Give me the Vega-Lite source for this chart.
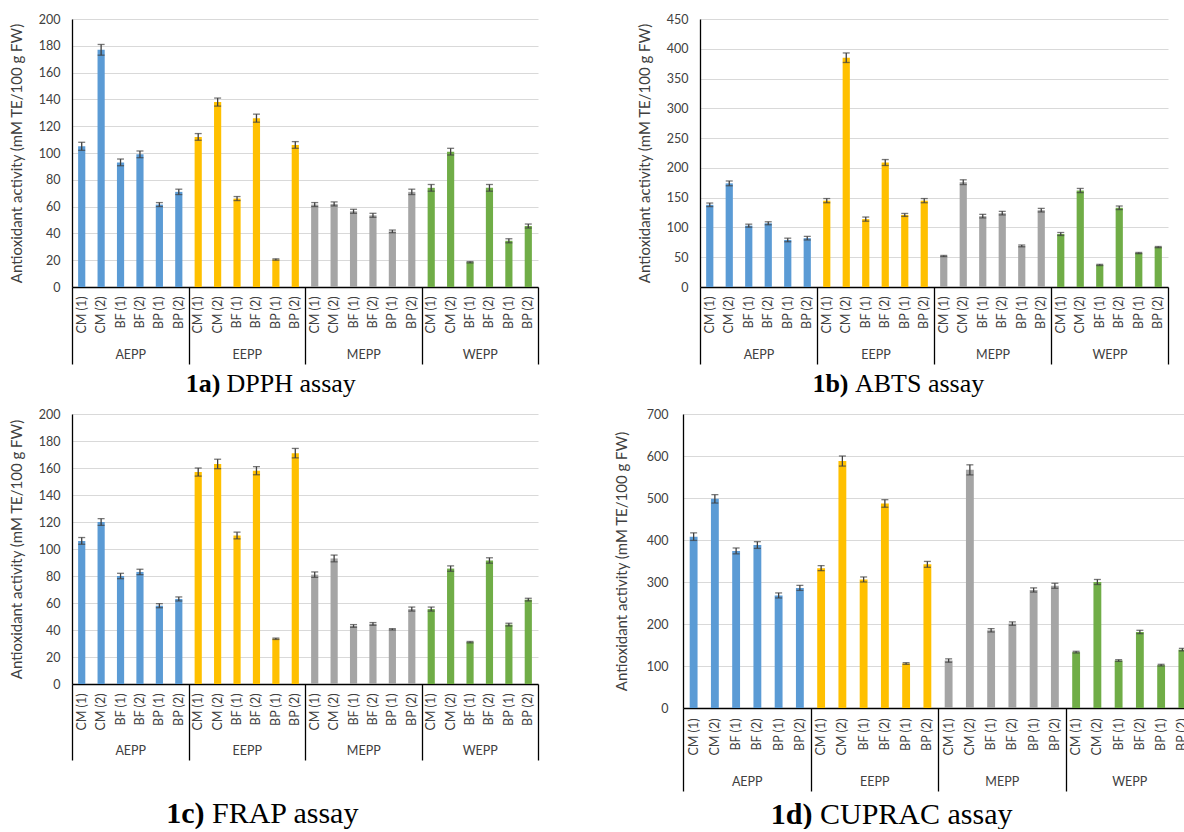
{
"$schema": "https://vega.github.io/schema/vega-lite/v6.json",
"padding": {"left": 9, "top": 13, "right": 0, "bottom": 0},
"datasets": {"d": [
{"a":"DPPH","g":"AEPP","k":"AEPP CM (1)","v":105,"e":3},
{"a":"DPPH","g":"AEPP","k":"AEPP CM (2)","v":177,"e":4},
{"a":"DPPH","g":"AEPP","k":"AEPP BF (1)","v":93,"e":2.5},
{"a":"DPPH","g":"AEPP","k":"AEPP BF (2)","v":99,"e":2.5},
{"a":"DPPH","g":"AEPP","k":"AEPP BP (1)","v":61.5,"e":1.5},
{"a":"DPPH","g":"AEPP","k":"AEPP BP (2)","v":71,"e":2},
{"a":"DPPH","g":"EEPP","k":"EEPP CM (1)","v":112,"e":2.5},
{"a":"DPPH","g":"EEPP","k":"EEPP CM (2)","v":138,"e":3},
{"a":"DPPH","g":"EEPP","k":"EEPP BF (1)","v":66,"e":1.5},
{"a":"DPPH","g":"EEPP","k":"EEPP BF (2)","v":126,"e":3},
{"a":"DPPH","g":"EEPP","k":"EEPP BP (1)","v":20.5,"e":0.5},
{"a":"DPPH","g":"EEPP","k":"EEPP BP (2)","v":106,"e":2.5},
{"a":"DPPH","g":"MEPP","k":"MEPP CM (1)","v":61.5,"e":1.5},
{"a":"DPPH","g":"MEPP","k":"MEPP CM (2)","v":62,"e":1.5},
{"a":"DPPH","g":"MEPP","k":"MEPP BF (1)","v":56.5,"e":1.5},
{"a":"DPPH","g":"MEPP","k":"MEPP BF (2)","v":53.5,"e":1.5},
{"a":"DPPH","g":"MEPP","k":"MEPP BP (1)","v":41.5,"e":1},
{"a":"DPPH","g":"MEPP","k":"MEPP BP (2)","v":71,"e":2},
{"a":"DPPH","g":"WEPP","k":"WEPP CM (1)","v":74,"e":2.5},
{"a":"DPPH","g":"WEPP","k":"WEPP CM (2)","v":101,"e":2.5},
{"a":"DPPH","g":"WEPP","k":"WEPP BF (1)","v":18.5,"e":0.5},
{"a":"DPPH","g":"WEPP","k":"WEPP BF (2)","v":74,"e":2.5},
{"a":"DPPH","g":"WEPP","k":"WEPP BP (1)","v":34.5,"e":1.5},
{"a":"DPPH","g":"WEPP","k":"WEPP BP (2)","v":45.5,"e":1.5},
{"a":"ABTS","g":"AEPP","k":"AEPP CM (1)","v":138,"e":3},
{"a":"ABTS","g":"AEPP","k":"AEPP CM (2)","v":174,"e":4},
{"a":"ABTS","g":"AEPP","k":"AEPP BF (1)","v":103,"e":2.5},
{"a":"ABTS","g":"AEPP","k":"AEPP BF (2)","v":107,"e":2.5},
{"a":"ABTS","g":"AEPP","k":"AEPP BP (1)","v":79,"e":3},
{"a":"ABTS","g":"AEPP","k":"AEPP BP (2)","v":82,"e":3},
{"a":"ABTS","g":"EEPP","k":"EEPP CM (1)","v":145,"e":3.5},
{"a":"ABTS","g":"EEPP","k":"EEPP CM (2)","v":385,"e":8},
{"a":"ABTS","g":"EEPP","k":"EEPP BF (1)","v":114,"e":3.5},
{"a":"ABTS","g":"EEPP","k":"EEPP BF (2)","v":209,"e":5},
{"a":"ABTS","g":"EEPP","k":"EEPP BP (1)","v":121,"e":2.5},
{"a":"ABTS","g":"EEPP","k":"EEPP BP (2)","v":145,"e":3.5},
{"a":"ABTS","g":"MEPP","k":"MEPP CM (1)","v":52,"e":1},
{"a":"ABTS","g":"MEPP","k":"MEPP CM (2)","v":176,"e":4},
{"a":"ABTS","g":"MEPP","k":"MEPP BF (1)","v":119,"e":3},
{"a":"ABTS","g":"MEPP","k":"MEPP BF (2)","v":124,"e":3},
{"a":"ABTS","g":"MEPP","k":"MEPP BP (1)","v":69,"e":1.5},
{"a":"ABTS","g":"MEPP","k":"MEPP BP (2)","v":129,"e":3},
{"a":"ABTS","g":"WEPP","k":"WEPP CM (1)","v":89,"e":2.5},
{"a":"ABTS","g":"WEPP","k":"WEPP CM (2)","v":162,"e":3.5},
{"a":"ABTS","g":"WEPP","k":"WEPP BF (1)","v":37,"e":1},
{"a":"ABTS","g":"WEPP","k":"WEPP BF (2)","v":133,"e":3},
{"a":"ABTS","g":"WEPP","k":"WEPP BP (1)","v":57,"e":1},
{"a":"ABTS","g":"WEPP","k":"WEPP BP (2)","v":67,"e":1},
{"a":"FRAP","g":"AEPP","k":"AEPP CM (1)","v":106,"e":2.5},
{"a":"FRAP","g":"AEPP","k":"AEPP CM (2)","v":120,"e":2.5},
{"a":"FRAP","g":"AEPP","k":"AEPP BF (1)","v":80,"e":2},
{"a":"FRAP","g":"AEPP","k":"AEPP BF (2)","v":83,"e":2},
{"a":"FRAP","g":"AEPP","k":"AEPP BP (1)","v":58,"e":1.5},
{"a":"FRAP","g":"AEPP","k":"AEPP BP (2)","v":63,"e":1.5},
{"a":"FRAP","g":"EEPP","k":"EEPP CM (1)","v":157,"e":3},
{"a":"FRAP","g":"EEPP","k":"EEPP CM (2)","v":163,"e":3.5},
{"a":"FRAP","g":"EEPP","k":"EEPP BF (1)","v":110,"e":2.5},
{"a":"FRAP","g":"EEPP","k":"EEPP BF (2)","v":158,"e":3},
{"a":"FRAP","g":"EEPP","k":"EEPP BP (1)","v":33.5,"e":0.5},
{"a":"FRAP","g":"EEPP","k":"EEPP BP (2)","v":171,"e":3.5},
{"a":"FRAP","g":"MEPP","k":"MEPP CM (1)","v":81,"e":2},
{"a":"FRAP","g":"MEPP","k":"MEPP CM (2)","v":93,"e":2.5},
{"a":"FRAP","g":"MEPP","k":"MEPP BF (1)","v":43,"e":1},
{"a":"FRAP","g":"MEPP","k":"MEPP BF (2)","v":44.5,"e":1},
{"a":"FRAP","g":"MEPP","k":"MEPP BP (1)","v":40.5,"e":0.5},
{"a":"FRAP","g":"MEPP","k":"MEPP BP (2)","v":55.5,"e":1.5},
{"a":"FRAP","g":"WEPP","k":"WEPP CM (1)","v":55.5,"e":1.5},
{"a":"FRAP","g":"WEPP","k":"WEPP CM (2)","v":85.5,"e":2},
{"a":"FRAP","g":"WEPP","k":"WEPP BF (1)","v":31,"e":0.5},
{"a":"FRAP","g":"WEPP","k":"WEPP BF (2)","v":91.5,"e":2},
{"a":"FRAP","g":"WEPP","k":"WEPP BP (1)","v":44,"e":1},
{"a":"FRAP","g":"WEPP","k":"WEPP BP (2)","v":62.5,"e":1},
{"a":"CUPRAC","g":"AEPP","k":"AEPP CM (1)","v":408,"e":9},
{"a":"CUPRAC","g":"AEPP","k":"AEPP CM (2)","v":498,"e":10},
{"a":"CUPRAC","g":"AEPP","k":"AEPP BF (1)","v":374,"e":7},
{"a":"CUPRAC","g":"AEPP","k":"AEPP BF (2)","v":388,"e":8},
{"a":"CUPRAC","g":"AEPP","k":"AEPP BP (1)","v":268,"e":6},
{"a":"CUPRAC","g":"AEPP","k":"AEPP BP (2)","v":286,"e":6},
{"a":"CUPRAC","g":"EEPP","k":"EEPP CM (1)","v":333,"e":6},
{"a":"CUPRAC","g":"EEPP","k":"EEPP CM (2)","v":588,"e":12},
{"a":"CUPRAC","g":"EEPP","k":"EEPP BF (1)","v":306,"e":6},
{"a":"CUPRAC","g":"EEPP","k":"EEPP BF (2)","v":487,"e":9},
{"a":"CUPRAC","g":"EEPP","k":"EEPP BP (1)","v":106,"e":2},
{"a":"CUPRAC","g":"EEPP","k":"EEPP BP (2)","v":342,"e":7},
{"a":"CUPRAC","g":"MEPP","k":"MEPP CM (1)","v":113,"e":4},
{"a":"CUPRAC","g":"MEPP","k":"MEPP CM (2)","v":567,"e":12},
{"a":"CUPRAC","g":"MEPP","k":"MEPP BF (1)","v":185,"e":4},
{"a":"CUPRAC","g":"MEPP","k":"MEPP BF (2)","v":201,"e":4},
{"a":"CUPRAC","g":"MEPP","k":"MEPP BP (1)","v":281,"e":5},
{"a":"CUPRAC","g":"MEPP","k":"MEPP BP (2)","v":291,"e":6},
{"a":"CUPRAC","g":"WEPP","k":"WEPP CM (1)","v":133,"e":2},
{"a":"CUPRAC","g":"WEPP","k":"WEPP CM (2)","v":300,"e":6},
{"a":"CUPRAC","g":"WEPP","k":"WEPP BF (1)","v":113,"e":2},
{"a":"CUPRAC","g":"WEPP","k":"WEPP BF (2)","v":181,"e":4},
{"a":"CUPRAC","g":"WEPP","k":"WEPP BP (1)","v":102,"e":2},
{"a":"CUPRAC","g":"WEPP","k":"WEPP BP (2)","v":139,"e":3}
]},
"config": {
  "view": {"stroke": null},
  "axis": {"labelFont": "Lato", "labelFontSize": 12.5, "labelColor": "#404040", "domainColor": "#000000", "domainWidth": 1.3, "tickColor": "#000000", "gridColor": "#D9D9D9", "gridWidth": 1, "titleColor": "#000000"},
  "axisY": {"ticks": false, "labelPadding": 12, "labelOverlap": false, "labelFlush": false, "titleFont": "Lato", "titleFontSize": 15, "titleFontWeight": "normal", "titleColor": "#404040", "titlePadding": 14, "grid": true},
  "axisX": {"grid": false}
},
"bounds": "full",
"spacing": 12,
"vconcat": [
{"bounds": "flush", "spacing": 162, "hconcat": [
 {"width": 466, "height": 268, "resolve": {"scale": {"x": "independent"}},
  "layer": [
   {"data": {"name": "d"}, "transform": [{"filter": "datum.a === 'DPPH'"}],
    "layer": [
     {"mark": {"type": "bar", "width": {"band": 0.37}},
      "encoding": {
       "x": {"field": "k", "type": "nominal", "sort": null, "scale": {"paddingInner": 0, "paddingOuter": 0},
             "axis": {"orient": "bottom", "labelExpr": "substring(datum.label, 5)", "labelAngle": -90, "labelPadding": 9, "ticks": false, "labelOverlap": false,
                      "title": "1a)", "titleFont": "Liberation Serif", "titleFontSize": 26, "titleFontWeight": "bold", "titleAlign": "right", "titleBaseline": "alphabetic", "titleX": 148, "titleY": 104}},
       "y": {"field": "v", "type": "quantitative", "scale": {"domain": [0, 200], "nice": false},
             "axis": {"values": [0,20,40,60,80,100,120,140,160,180,200], "labelOverlap": false, "title": "Antioxidant activity (mM TE/100 g FW)"}},
       "color": {"field": "g", "type": "nominal", "scale": {"domain": ["AEPP","EEPP","MEPP","WEPP"], "range": ["#5B9BD5","#FFC000","#A5A5A5","#70AD47"]}, "legend": null}
      }},
     {"mark": {"type": "errorbar", "ticks": {"size": 7}, "color": "#404040", "thickness": 1.3},
      "encoding": {
       "x": {"field": "k", "type": "nominal", "sort": null},
       "y": {"field": "v", "type": "quantitative", "title": "Antioxidant activity (mM TE/100 g FW)", "axis": {"values": [0,20,40,60,80,100,120,140,160,180,200], "labelOverlap": false}},
       "yError": {"field": "e"}
      }}
    ]},
   {"data": {"values": [{"p": 0}, {"p": 4}]},
    "mark": {"type": "point", "opacity": 0},
    "encoding": {"x": {"field": "p", "type": "quantitative", "scale": {"domain": [0, 4], "nice": false, "zero": false},
      "axis": {"orient": "bottom", "values": [0,0.5,1,1.5,2,2.5,3,3.5,4], "domain": false, "grid": false, "ticks": true, "tickSize": 77, "tickWidth": 1.3,
               "tickOpacity": {"condition": {"test": "datum.value % 1 === 0", "value": 1}, "value": 0},
               "labelExpr": "datum.value === 0.5 ? 'AEPP' : datum.value === 1.5 ? 'EEPP' : datum.value === 2.5 ? 'MEPP' : datum.value === 3.5 ? 'WEPP' : ''",
               "labelPadding": -10, "labelBaseline": "middle", "labelAngle": 0, "labelOverlap": false, "labelFlush": false, "labelBound": false,
               "title": "DPPH assay", "titleFont": "Liberation Serif", "titleFontSize": 26, "titleFontWeight": "normal", "titleAlign": "left", "titleBaseline": "alphabetic", "titleX": 154, "titleY": 104}}}}
  ]},
 {"width": 468, "height": 268, "resolve": {"scale": {"x": "independent"}},
  "layer": [
   {"data": {"name": "d"}, "transform": [{"filter": "datum.a === 'ABTS'"}],
    "layer": [
     {"mark": {"type": "bar", "width": {"band": 0.37}},
      "encoding": {
       "x": {"field": "k", "type": "nominal", "sort": null, "scale": {"paddingInner": 0, "paddingOuter": 0},
             "axis": {"orient": "bottom", "labelExpr": "substring(datum.label, 5)", "labelAngle": -90, "labelPadding": 9, "ticks": false, "labelOverlap": false,
                      "title": "1b)", "titleFont": "Liberation Serif", "titleFontSize": 26, "titleFontWeight": "bold", "titleAlign": "right", "titleBaseline": "alphabetic", "titleX": 148, "titleY": 104}},
       "y": {"field": "v", "type": "quantitative", "scale": {"domain": [0, 450], "nice": false},
             "axis": {"values": [0,50,100,150,200,250,300,350,400,450], "labelOverlap": false, "title": "Antioxidant activity (mM TE/100 g FW)"}},
       "color": {"field": "g", "type": "nominal", "scale": {"domain": ["AEPP","EEPP","MEPP","WEPP"], "range": ["#5B9BD5","#FFC000","#A5A5A5","#70AD47"]}, "legend": null}
      }},
     {"mark": {"type": "errorbar", "ticks": {"size": 7}, "color": "#404040", "thickness": 1.3},
      "encoding": {
       "x": {"field": "k", "type": "nominal", "sort": null},
       "y": {"field": "v", "type": "quantitative", "title": "Antioxidant activity (mM TE/100 g FW)", "axis": {"values": [0,50,100,150,200,250,300,350,400,450], "labelOverlap": false}},
       "yError": {"field": "e"}
      }}
    ]},
   {"data": {"values": [{"p": 0}, {"p": 4}]},
    "mark": {"type": "point", "opacity": 0},
    "encoding": {"x": {"field": "p", "type": "quantitative", "scale": {"domain": [0, 4], "nice": false, "zero": false},
      "axis": {"orient": "bottom", "values": [0,0.5,1,1.5,2,2.5,3,3.5,4], "domain": false, "grid": false, "ticks": true, "tickSize": 77, "tickWidth": 1.3,
               "tickOpacity": {"condition": {"test": "datum.value % 1 === 0", "value": 1}, "value": 0},
               "labelExpr": "datum.value === 0.5 ? 'AEPP' : datum.value === 1.5 ? 'EEPP' : datum.value === 2.5 ? 'MEPP' : datum.value === 3.5 ? 'WEPP' : ''",
               "labelPadding": -10, "labelBaseline": "middle", "labelAngle": 0, "labelOverlap": false, "labelFlush": false, "labelBound": false,
               "title": "ABTS assay", "titleFont": "Liberation Serif", "titleFontSize": 26, "titleFontWeight": "normal", "titleAlign": "left", "titleBaseline": "alphabetic", "titleX": 154.5, "titleY": 104}}}}
  ]}
]},
{"bounds": "flush", "spacing": 145, "hconcat": [
 {"width": 466, "height": 270, "resolve": {"scale": {"x": "independent"}},
  "layer": [
   {"data": {"name": "d"}, "transform": [{"filter": "datum.a === 'FRAP'"}],
    "layer": [
     {"mark": {"type": "bar", "width": {"band": 0.37}},
      "encoding": {
       "x": {"field": "k", "type": "nominal", "sort": null, "scale": {"paddingInner": 0, "paddingOuter": 0},
             "axis": {"orient": "bottom", "labelExpr": "substring(datum.label, 5)", "labelAngle": -90, "labelPadding": 9, "ticks": false, "labelOverlap": false,
                      "title": "1c)", "titleFont": "Liberation Serif", "titleFontSize": 30, "titleFontWeight": "bold", "titleAlign": "right", "titleBaseline": "alphabetic", "titleX": 132, "titleY": 138}},
       "y": {"field": "v", "type": "quantitative", "scale": {"domain": [0, 200], "nice": false},
             "axis": {"values": [0,20,40,60,80,100,120,140,160,180,200], "labelOverlap": false, "title": "Antioxidant activity (mM TE/100 g FW)"}},
       "color": {"field": "g", "type": "nominal", "scale": {"domain": ["AEPP","EEPP","MEPP","WEPP"], "range": ["#5B9BD5","#FFC000","#A5A5A5","#70AD47"]}, "legend": null}
      }},
     {"mark": {"type": "errorbar", "ticks": {"size": 7}, "color": "#404040", "thickness": 1.3},
      "encoding": {
       "x": {"field": "k", "type": "nominal", "sort": null},
       "y": {"field": "v", "type": "quantitative", "title": "Antioxidant activity (mM TE/100 g FW)", "axis": {"values": [0,20,40,60,80,100,120,140,160,180,200], "labelOverlap": false}},
       "yError": {"field": "e"}
      }}
    ]},
   {"data": {"values": [{"p": 0}, {"p": 4}]},
    "mark": {"type": "point", "opacity": 0},
    "encoding": {"x": {"field": "p", "type": "quantitative", "scale": {"domain": [0, 4], "nice": false, "zero": false},
      "axis": {"orient": "bottom", "values": [0,0.5,1,1.5,2,2.5,3,3.5,4], "domain": false, "grid": false, "ticks": true, "tickSize": 76, "tickWidth": 1.3,
               "tickOpacity": {"condition": {"test": "datum.value % 1 === 0", "value": 1}, "value": 0},
               "labelExpr": "datum.value === 0.5 ? 'AEPP' : datum.value === 1.5 ? 'EEPP' : datum.value === 2.5 ? 'MEPP' : datum.value === 3.5 ? 'WEPP' : ''",
               "labelPadding": -10, "labelBaseline": "middle", "labelAngle": 0, "labelOverlap": false, "labelFlush": false, "labelBound": false,
               "title": "FRAP assay", "titleFont": "Liberation Serif", "titleFontSize": 30, "titleFontWeight": "normal", "titleAlign": "left", "titleBaseline": "alphabetic", "titleX": 139.5, "titleY": 138}}}}
  ]},
 {"width": 510, "height": 294, "resolve": {"scale": {"x": "independent"}},
  "layer": [
   {"data": {"name": "d"}, "transform": [{"filter": "datum.a === 'CUPRAC'"}],
    "layer": [
     {"mark": {"type": "bar", "width": {"band": 0.37}},
      "encoding": {
       "x": {"field": "k", "type": "nominal", "sort": null, "scale": {"paddingInner": 0, "paddingOuter": 0},
             "axis": {"orient": "bottom", "labelExpr": "substring(datum.label, 5)", "labelAngle": -90, "labelPadding": 10, "ticks": false, "labelOverlap": false,
                      "title": "1d)", "titleFont": "Liberation Serif", "titleFontSize": 30, "titleFontWeight": "bold", "titleAlign": "right", "titleBaseline": "alphabetic", "titleX": 129, "titleY": 115}},
       "y": {"field": "v", "type": "quantitative", "scale": {"domain": [0, 700], "nice": false},
             "axis": {"values": [0,100,200,300,400,500,600,700], "labelOverlap": false, "title": "Antioxidant activity (mM TE/100 g FW)", "labelPadding": 15, "titlePadding": 17}},
       "color": {"field": "g", "type": "nominal", "scale": {"domain": ["AEPP","EEPP","MEPP","WEPP"], "range": ["#5B9BD5","#FFC000","#A5A5A5","#70AD47"]}, "legend": null}
      }},
     {"mark": {"type": "errorbar", "ticks": {"size": 7}, "color": "#404040", "thickness": 1.3},
      "encoding": {
       "x": {"field": "k", "type": "nominal", "sort": null},
       "y": {"field": "v", "type": "quantitative", "title": "Antioxidant activity (mM TE/100 g FW)", "axis": {"values": [0,100,200,300,400,500,600,700], "labelOverlap": false, "labelPadding": 15, "titlePadding": 17}},
       "yError": {"field": "e"}
      }}
    ]},
   {"data": {"values": [{"p": 0}, {"p": 4}]},
    "mark": {"type": "point", "opacity": 0},
    "encoding": {"x": {"field": "p", "type": "quantitative", "scale": {"domain": [0, 4], "nice": false, "zero": false},
      "axis": {"orient": "bottom", "values": [0,0.5,1,1.5,2,2.5,3,3.5,4], "domain": false, "grid": false, "ticks": true, "tickSize": 83, "tickWidth": 1.3,
               "tickOpacity": {"condition": {"test": "datum.value % 1 === 0", "value": 1}, "value": 0},
               "labelExpr": "datum.value === 0.5 ? 'AEPP' : datum.value === 1.5 ? 'EEPP' : datum.value === 2.5 ? 'MEPP' : datum.value === 3.5 ? 'WEPP' : ''",
               "labelPadding": -10, "labelBaseline": "middle", "labelAngle": 0, "labelOverlap": false, "labelFlush": false, "labelBound": false,
               "title": "CUPRAC assay", "titleFont": "Liberation Serif", "titleFontSize": 30, "titleFontWeight": "normal", "titleAlign": "left", "titleBaseline": "alphabetic", "titleX": 136.5, "titleY": 115}}}}
  ]}
]}
]
}
